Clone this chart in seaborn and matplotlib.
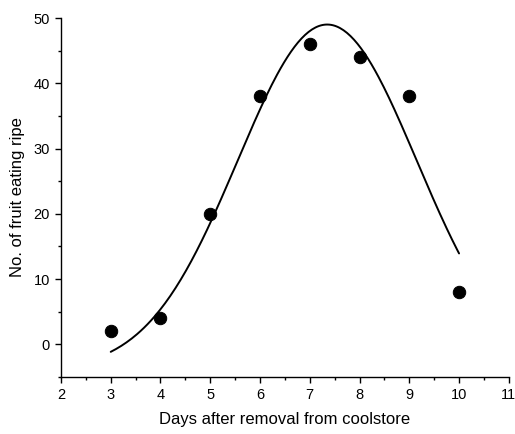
import numpy as np
import pandas as pd
import matplotlib
matplotlib.use("Agg")
import matplotlib.pyplot as plt
from matplotlib.ticker import MultipleLocator
import seaborn as sns

# Podaci
days = [3, 4, 5, 6, 7, 8, 9, 10]
fruit_ripe = [2, 4, 20, 38, 46, 44, 38, 8]

# Parametri Gaussove krivulje (ocitano sa slike)
fit_y0 = -4.0
fit_amp = 53.0
fit_xc = 7.35
fit_w = 1.80

sns.set_theme(style="ticks")
plt.rcParams['font.family'] = ['Liberation Sans', 'DejaVu Sans']
plt.rcParams['text.color'] = 'black'
plt.rcParams['axes.labelcolor'] = 'black'
plt.rcParams['xtick.color'] = 'black'
plt.rcParams['ytick.color'] = 'black'

df = pd.DataFrame({"day": days, "ripe": fruit_ripe})
xs = np.linspace(min(days), max(days), 200)
fit = pd.DataFrame({"day": xs,
                    "ripe": fit_y0 + fit_amp * np.exp(-(xs - fit_xc) ** 2 / (2 * fit_w ** 2))})

fig = plt.figure(figsize=(5.15, 4.34), dpi=100)
ax = fig.add_axes([0.1184, 0.1313, 0.8696, 0.8272])

sns.lineplot(data=fit, x="day", y="ripe", ax=ax, color="black", linewidth=1.4)
sns.scatterplot(data=df, x="day", y="ripe", ax=ax, color="black", s=80,
                edgecolor="black", zorder=3)

ax.set_xlim(2, 11)
ax.set_ylim(-5, 50)
ax.xaxis.set_major_locator(MultipleLocator(1))
ax.xaxis.set_minor_locator(MultipleLocator(0.5))
ax.yaxis.set_major_locator(MultipleLocator(10))
ax.yaxis.set_minor_locator(MultipleLocator(5))
ax.tick_params(which="major", length=4, width=1, labelsize=10.5, color="black",
               labelcolor="black", pad=4)
ax.tick_params(which="minor", length=2.5, width=1, color="black")
for s in ["left", "bottom"]:
    ax.spines[s].set_linewidth(1)
    ax.spines[s].set_color("black")
sns.despine(ax=ax)

ax.set_xlabel("Days after removal from coolstore", fontsize=12, labelpad=7)
ax.set_ylabel("No. of fruit eating ripe", fontsize=12, labelpad=6)

plt.savefig("out.png", dpi=100)
